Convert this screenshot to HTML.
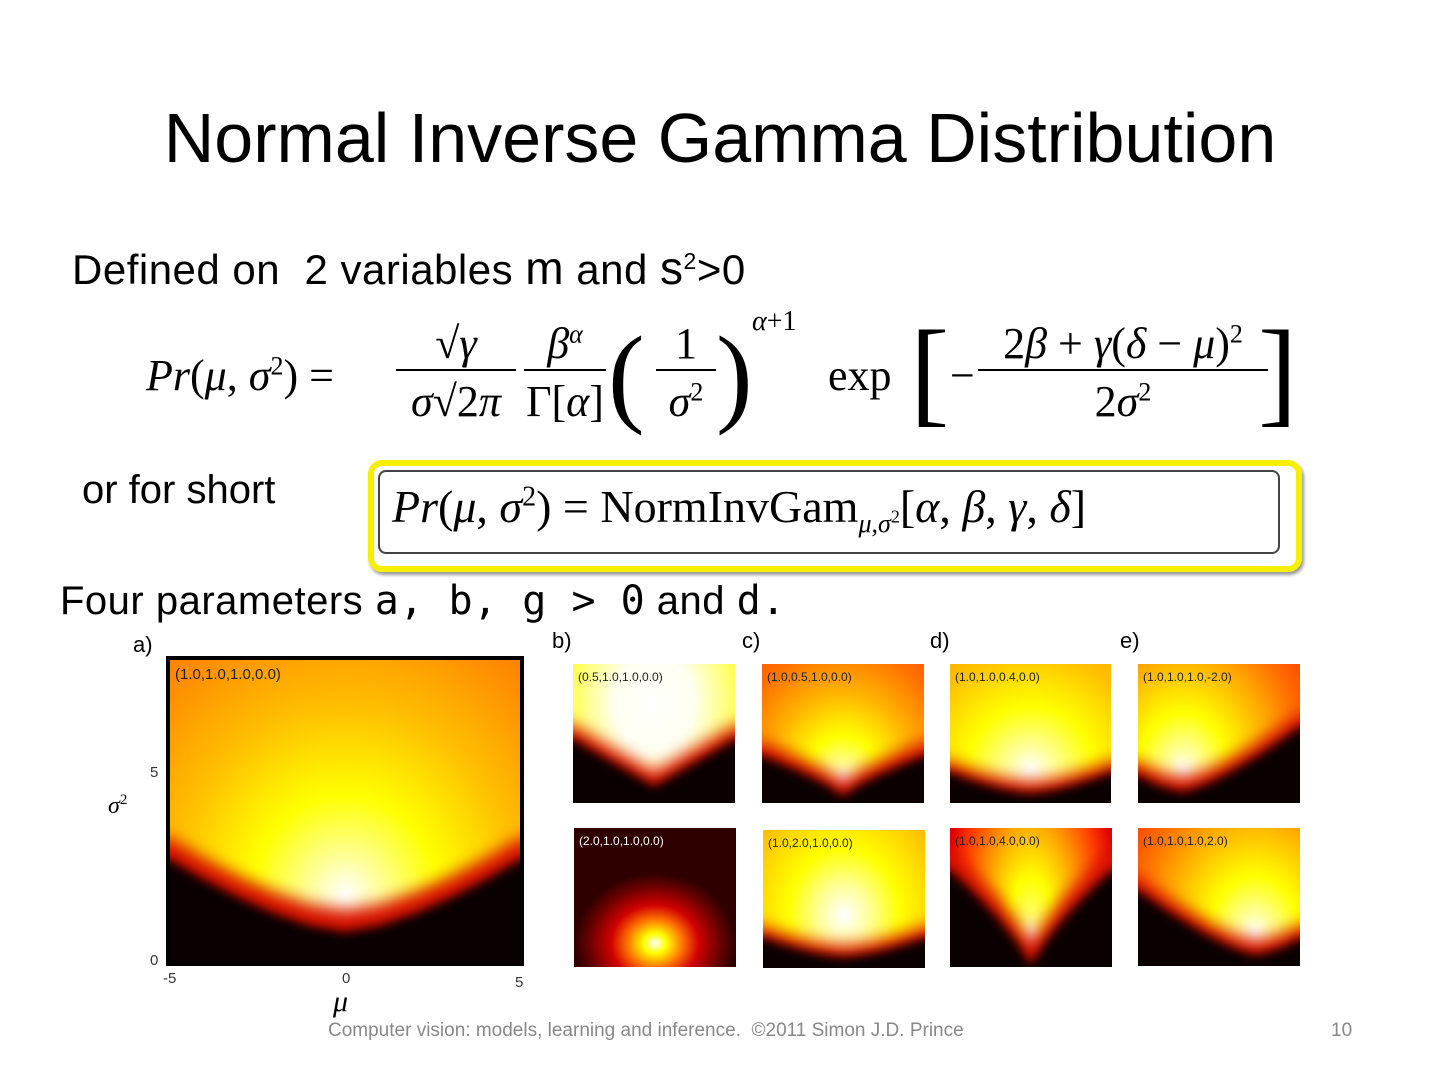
<!DOCTYPE html>
<html><head><meta charset="utf-8"><style>
body{margin:0;width:1440px;height:1080px;background:#fff;position:relative;overflow:hidden;font-family:"Liberation Sans",sans-serif;}
.a{position:absolute;white-space:nowrap;}
.p{position:absolute;background:#0a0000;overflow:hidden;}
.p .t{position:absolute;left:5px;top:6px;font-size:12px;color:#222;}
.f{position:absolute;inset:-20px;}
.f>div{position:absolute;inset:20px;}
.r{filter:blur(8px);}
.r>div{background:#d81000;box-shadow:0 0 0 20px #d81000;}
.k{filter:blur(5px);}
.k>div{background:#0a0000;box-shadow:0 0 0 20px #0a0000;}
.m{font-family:"Liberation Serif",serif;font-size:44px;color:#000;}
i{font-style:italic;}
.lab{font-size:22px;color:#000;}
</style></head><body>
<div class="a" style="left:0;width:1440px;text-align:center;top:98px;font-size:70px;color:#000;">Normal Inverse Gamma Distribution</div>
<div class="a" style="left:72px;top:241px;font-size:42px;letter-spacing:0.5px;">Defined on &nbsp;2 variables <span style="font-size:46px">m</span> and <span style="font-size:46px">s</span><sup style="font-size:23px">2</sup>&gt;0</div>
<div class="a m" style="left:146px;top:350px;"><i>Pr</i>(<i>μ</i>, <i>σ</i><sup style="font-size:26px">2</sup>) =</div>
<div class="a m" style="left:396px;top:318px;width:120px;text-align:center;border-bottom:2px solid #000;">√<i>γ</i></div>
<div class="a m" style="left:396px;top:376px;width:120px;text-align:center;"><i>σ</i>√2<i>π</i></div>
<div class="a m" style="left:524px;top:318px;width:82px;text-align:center;border-bottom:2px solid #000;"><i>β</i><sup style="font-size:26px"><i>α</i></sup></div>
<div class="a m" style="left:524px;top:376px;width:82px;text-align:center;">Γ[<i>α</i>]</div>
<div class="a m" style="left:608px;top:312px;font-size:110px;font-weight:100;">(</div>
<div class="a m" style="left:656px;top:318px;width:60px;text-align:center;border-bottom:2px solid #000;">1</div>
<div class="a m" style="left:656px;top:376px;width:60px;text-align:center;"><i>σ</i><sup style="font-size:26px">2</sup></div>
<div class="a m" style="left:716px;top:312px;font-size:110px;">)</div>
<div class="a m" style="left:752px;top:306px;font-size:28px;"><i>α</i>+1</div>
<div class="a m" style="left:828px;top:350px;">exp</div>
<div class="a m" style="left:910px;top:304px;font-size:118px;">[</div>
<div class="a m" style="left:950px;top:350px;">−</div>
<div class="a m" style="left:978px;top:318px;width:290px;text-align:center;border-bottom:2px solid #000;">2<i>β</i> + <i>γ</i>(<i>δ</i> − <i>μ</i>)<sup style="font-size:26px">2</sup></div>
<div class="a m" style="left:978px;top:376px;width:290px;text-align:center;">2<i>σ</i><sup style="font-size:26px">2</sup></div>
<div class="a m" style="left:1258px;top:304px;font-size:118px;">]</div>
<div class="a" style="left:82px;top:468px;font-size:40px;">or for short</div>
<div class="a" style="left:368px;top:460px;width:922px;height:100px;border:6px solid #f5f000;border-radius:14px;box-shadow:2px 3px 3px #999;"></div>
<div class="a" style="left:378px;top:470px;width:898px;height:80px;border:2px solid #444;border-radius:8px;"></div>
<div class="a m" style="left:392px;top:480px;font-size:46px;"><i>Pr</i>(<i>μ</i>, <i>σ</i><sup style="font-size:28px">2</sup>) = NormInvGam<sub style="font-size:26px"><i>μ</i>,<i>σ</i><sup style="font-size:18px">2</sup></sub>[<i>α</i>, <i>β</i>, <i>γ</i>, <i>δ</i>]</div>
<div class="a" style="left:60px;top:578px;font-size:40px;letter-spacing:0.5px;">Four parameters <span style="font-family:'DejaVu Sans Mono',monospace;font-size:40px">a, b, g &gt; 0</span> and <span style="font-family:'DejaVu Sans Mono',monospace">d.</span></div>

<div class="a lab" style="left:133px;top:632px;">a)</div>
<div class="a lab" style="left:552px;top:628px;">b)</div>
<div class="a lab" style="left:742px;top:628px;">c)</div>
<div class="a lab" style="left:930px;top:628px;">d)</div>
<div class="a lab" style="left:1120px;top:628px;">e)</div>

<!-- a -->
<div class="p" style="left:166px;top:656px;width:350px;height:302px;border:4px solid #000;background:radial-gradient(ellipse 330px 360px at 50% 78%,#fff 0,#ffffa0 10%,#ffff00 28%,#ffc000 52%,#ff9000 76%,#ff6800 100%);">
<div class="f r"><div style="clip-path:polygon(-15% 59%,0 59%,10% 65.8%,20% 71.8%,30% 76.9%,40% 80.9%,50% 83%,60% 80.9%,70% 76.9%,80% 71.8%,90% 65.8%,100% 59%,115% 59%,115% 115%,-15% 115%);"></div></div>
<div class="f k"><div style="clip-path:polygon(-15% 66%,0 66%,10% 72.8%,20% 78.8%,30% 83.9%,40% 87.9%,50% 90%,60% 87.9%,70% 83.9%,80% 78.8%,90% 72.8%,100% 66%,115% 66%,115% 115%,-15% 115%);"></div></div>
<div class="t" style="font-size:15px;">(1.0,1.0,1.0,0.0)</div></div>
<div class="a" style="left:150px;top:764px;font-size:15px;color:#333">5</div>
<div class="a" style="left:150px;top:952px;font-size:15px;color:#333">0</div>
<div class="a" style="left:163px;top:970px;font-size:15px;color:#333">-5</div>
<div class="a" style="left:342px;top:970px;font-size:15px;color:#333">0</div>
<div class="a" style="left:515px;top:974px;font-size:15px;color:#333">5</div>
<div class="a m" style="left:108px;top:792px;font-size:24px;"><i>σ</i><sup style="font-size:15px">2</sup></div>
<div class="a m" style="left:333px;top:985px;font-size:30px;"><i>μ</i></div>

<!-- b top -->
<div class="p" style="left:573px;top:664px;width:162px;height:139px;background:radial-gradient(ellipse 160px 200px at 50% 28%,#fff 0,#fffff0 25%,#ffff60 50%,#ffe000 72%,#ffb000 100%);">
<div class="f r"><div style="clip-path:polygon(-15% 44%,0 44%,10% 50.8%,20% 57.6%,30% 64.4%,40% 71.2%,50% 78%,60% 71.2%,70% 64.4%,80% 57.6%,90% 50.8%,100% 44%,115% 44%,115% 115%,-15% 115%);"></div></div>
<div class="f k"><div style="clip-path:polygon(-15% 54%,0 54%,10% 60.8%,20% 67.6%,30% 74.4%,40% 81.2%,50% 88%,60% 81.2%,70% 74.4%,80% 67.6%,90% 60.8%,100% 54%,115% 54%,115% 115%,-15% 115%);"></div></div>
<div class="t">(0.5,1.0,1.0,0.0)</div></div>
<!-- b bottom -->
<div class="p" style="left:574px;top:828px;width:162px;height:139px;background:radial-gradient(ellipse 80px 70px at 50% 83%,#fff 0,#ffff00 14%,#ff7000 35%,#d00000 55%,#700000 80%,#300000 100%);">
<div class="t" style="color:#fff">(2.0,1.0,1.0,0.0)</div></div>
<!-- c top -->
<div class="p" style="left:762px;top:664px;width:162px;height:139px;background:radial-gradient(ellipse 150px 180px at 50% 84%,#fff 0,#ffffa0 8%,#ffff00 25%,#ffb000 50%,#ff7000 75%,#ff4a00 100%);">
<div class="f r"><div style="clip-path:polygon(-15% 56%,0 56%,10% 60.7%,20% 65.7%,30% 71%,40% 77%,50% 85%,60% 77%,70% 71%,80% 65.7%,90% 60.7%,100% 56%,115% 56%,115% 115%,-15% 115%);"></div></div>
<div class="f k"><div style="clip-path:polygon(-15% 66%,0 66%,10% 70.7%,20% 75.7%,30% 81%,40% 87%,50% 95%,60% 87%,70% 81%,80% 75.7%,90% 70.7%,100% 66%,115% 66%,115% 115%,-15% 115%);"></div></div>
<div class="t">(1.0,0.5,1.0,0.0)</div></div>
<!-- c bottom -->
<div class="p" style="left:763px;top:830px;width:162px;height:138px;background:radial-gradient(ellipse 160px 190px at 50% 62%,#fff 0,#ffffa0 15%,#ffff00 35%,#ffc000 65%,#ffa000 100%);">
<div class="f r"><div style="clip-path:polygon(-15% 70%,0 70%,10% 74%,20% 77.5%,30% 80.5%,40% 82.7%,50% 84%,60% 82.7%,70% 80.5%,80% 77.5%,90% 74%,100% 70%,115% 70%,115% 115%,-15% 115%);"></div></div>
<div class="f k"><div style="clip-path:polygon(-15% 78%,0 78%,10% 82%,20% 85.5%,30% 88.5%,40% 90.7%,50% 92%,60% 90.7%,70% 88.5%,80% 85.5%,90% 82%,100% 78%,115% 78%,115% 115%,-15% 115%);"></div></div>
<div class="t">(1.0,2.0,1.0,0.0)</div></div>
<!-- d top -->
<div class="p" style="left:950px;top:664px;width:161px;height:139px;background:radial-gradient(ellipse 180px 180px at 50% 76%,#fff 0,#ffffa0 12%,#ffff00 35%,#ffc000 65%,#ff9a00 100%);">
<div class="f r"><div style="clip-path:polygon(-15% 70%,0 70%,10% 74.3%,20% 78%,30% 81.2%,40% 83.6%,50% 85%,60% 83.6%,70% 81.2%,80% 78%,90% 74.3%,100% 70%,115% 70%,115% 115%,-15% 115%);"></div></div>
<div class="f k"><div style="clip-path:polygon(-15% 78%,0 78%,10% 82.3%,20% 86%,30% 89.2%,40% 91.6%,50% 93%,60% 91.6%,70% 89.2%,80% 86%,90% 82.3%,100% 78%,115% 78%,115% 115%,-15% 115%);"></div></div>
<div class="t">(1.0,1.0,0.4,0.0)</div></div>
<!-- d bottom -->
<div class="p" style="left:950px;top:828px;width:162px;height:139px;background:radial-gradient(ellipse 90px 220px at 50% 80%,#fff 0,#ffff60 12%,#ffff00 28%,#ffa000 55%,#ff4000 80%,#e00000 100%);">
<div class="f r"><div style="clip-path:polygon(-15% 15%,0 15%,10% 26%,20% 38%,30% 50%,40% 65%,50% 83%,60% 65%,70% 50%,80% 38%,90% 26%,100% 15%,115% 15%,115% 115%,-15% 115%);"></div></div>
<div class="f k"><div style="clip-path:polygon(-15% 30%,0 30%,10% 41%,20% 52.8%,30% 65.4%,40% 80%,50% 98%,60% 80%,70% 65.4%,80% 52.8%,90% 41%,100% 30%,115% 30%,115% 115%,-15% 115%);"></div></div>
<div class="t">(1.0,1.0,4.0,0.0)</div></div>
<!-- e top -->
<div class="p" style="left:1138px;top:664px;width:162px;height:139px;background:radial-gradient(ellipse 150px 190px at 28% 76%,#fff 0,#ffffa0 10%,#ffff00 30%,#ffb000 58%,#ff7000 80%,#ff4000 100%);">
<div class="f r"><div style="clip-path:polygon(-15% 70%,0 70%,10% 76%,20% 80%,28% 82%,40% 77.4%,50% 72%,60% 65.6%,70% 58.7%,80% 51.2%,90% 43.3%,100% 35%,115% 35%,115% 115%,-15% 115%);"></div></div>
<div class="f k"><div style="clip-path:polygon(-15% 80%,0 80%,10% 86%,20% 90%,28% 92%,40% 87.4%,50% 82%,60% 75.6%,70% 68.7%,80% 61.2%,90% 53.3%,100% 45%,115% 45%,115% 115%,-15% 115%);"></div></div>
<div class="t">(1.0,1.0,1.0,-2.0)</div></div>
<!-- e bottom -->
<div class="p" style="left:1138px;top:828px;width:162px;height:138px;background:radial-gradient(ellipse 150px 190px at 72% 76%,#fff 0,#ffffa0 10%,#ffff00 30%,#ffb000 58%,#ff7000 80%,#ff4000 100%);">
<div class="f r"><div style="clip-path:polygon(-15% 35%,0 35%,10% 43.3%,20% 51.2%,30% 58.7%,40% 65.6%,50% 72%,60% 77.4%,72% 82%,80% 80%,90% 76%,100% 70%,115% 70%,115% 115%,-15% 115%);"></div></div>
<div class="f k"><div style="clip-path:polygon(-15% 45%,0 45%,10% 53.3%,20% 61.2%,30% 68.7%,40% 75.6%,50% 82%,60% 87.4%,72% 92%,80% 90%,90% 86%,100% 80%,115% 80%,115% 115%,-15% 115%);"></div></div>
<div class="t">(1.0,1.0,1.0,2.0)</div></div>

<div class="a" style="left:328px;top:1020px;font-size:19px;color:#888;">Computer vision: models, learning and inference. &nbsp;©2011 Simon J.D. Prince</div>
<div class="a" style="left:1331px;top:1020px;font-size:19px;color:#888;">10</div>
</body></html>
